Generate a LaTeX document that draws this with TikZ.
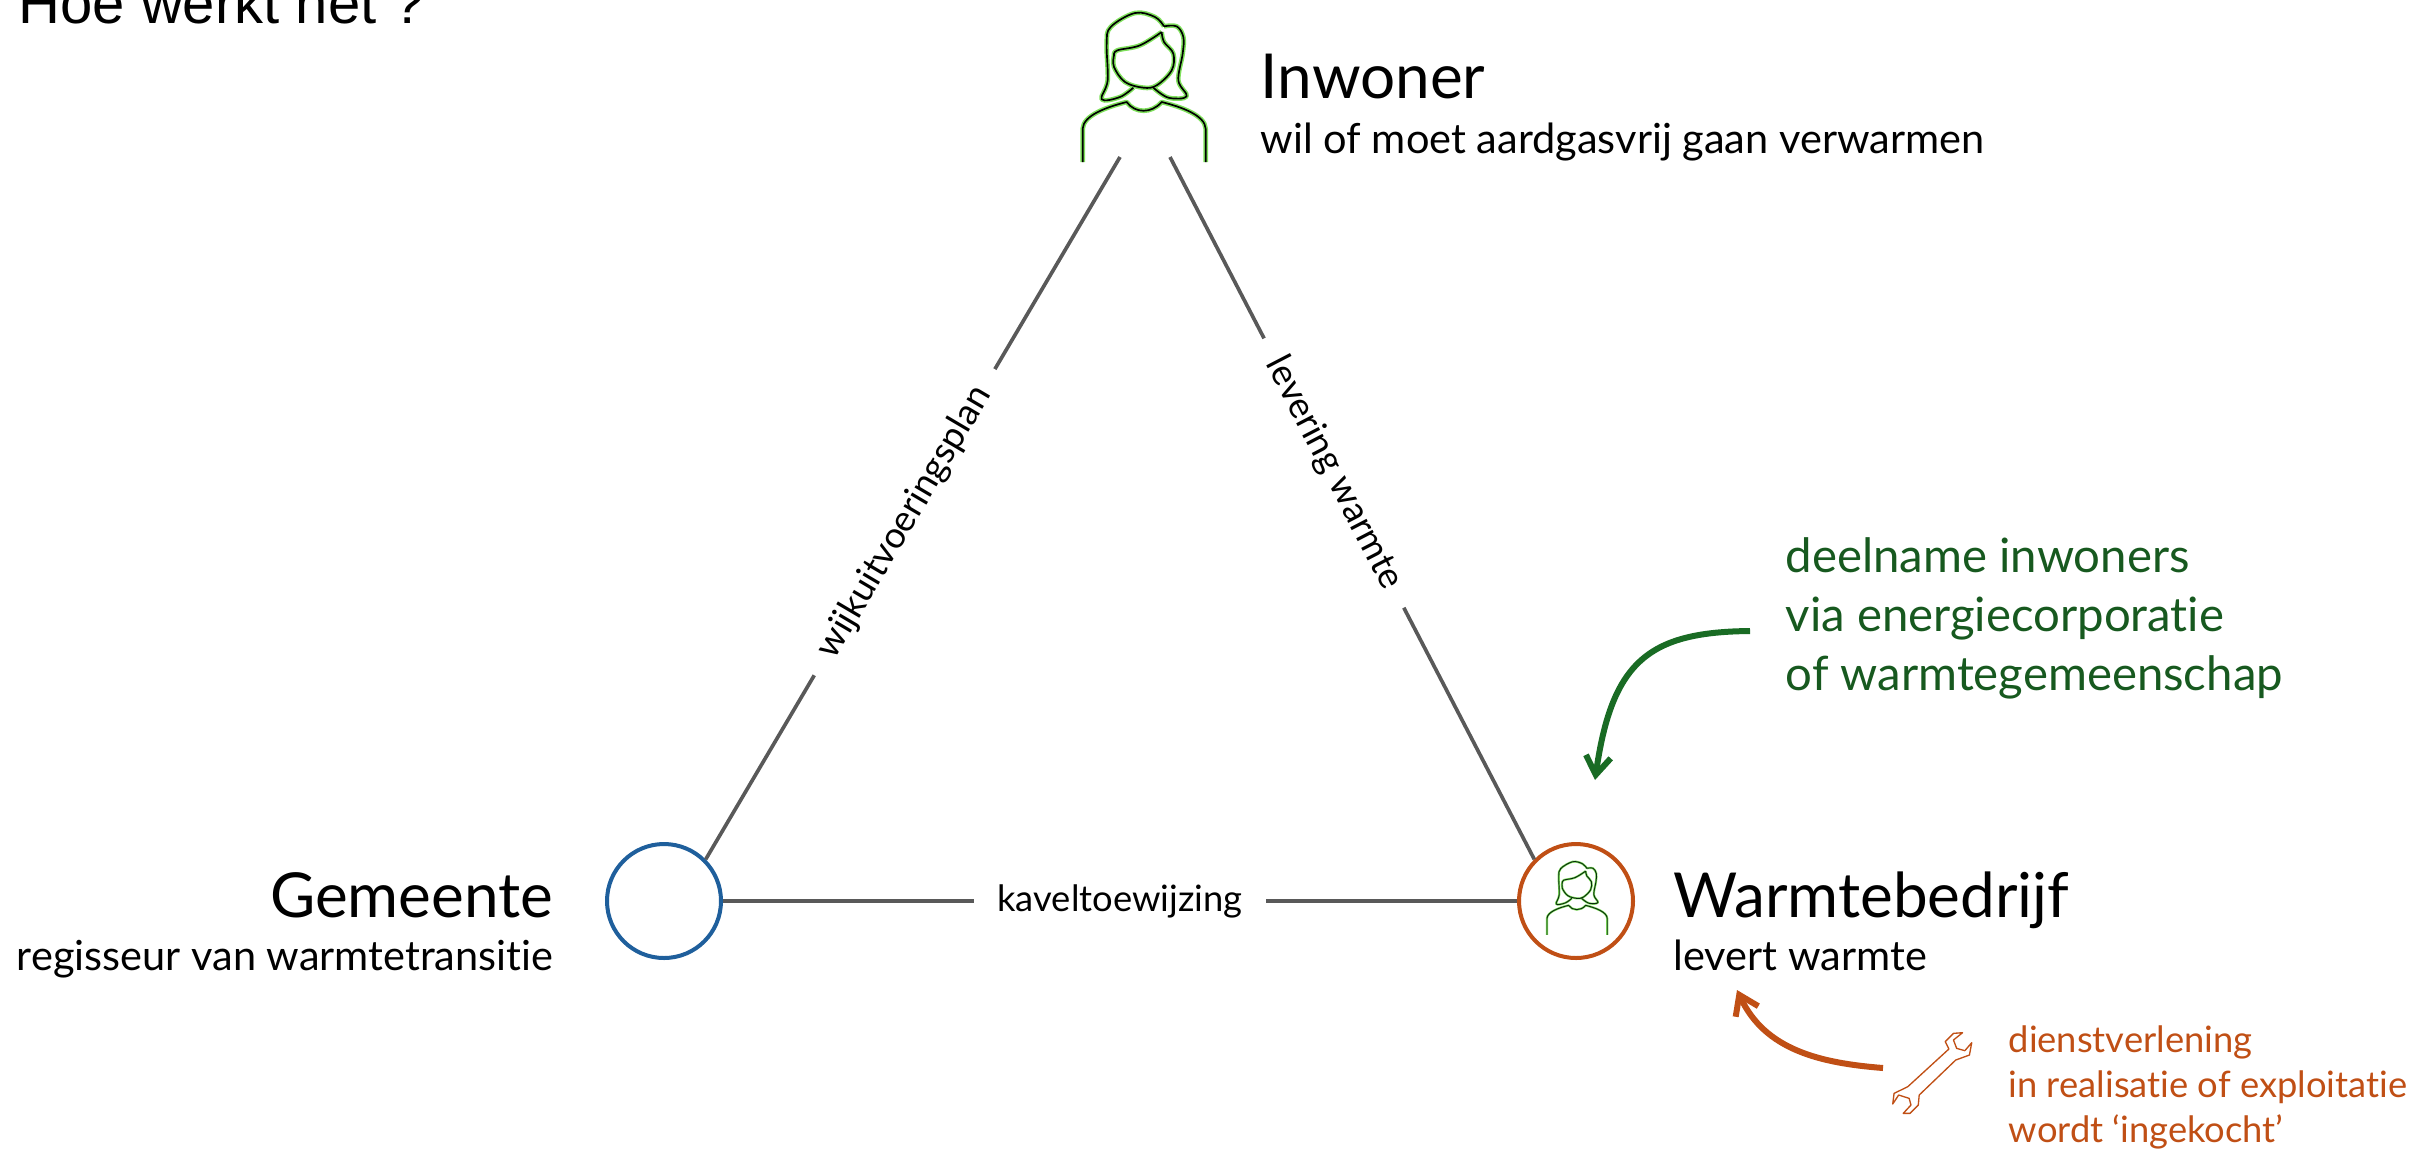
\documentclass[tikz,border=0pt]{standalone}
\usepackage{fontspec}
\setmainfont{Lato}[Ligatures=NoCommon]
\newfontfamily\titlefont{Liberation Sans}
\usetikzlibrary{positioning,arrows.meta}
\definecolor{arrowgreen}{HTML}{196B24}
\definecolor{textgreen}{HTML}{17591F}
\definecolor{glowgreen}{HTML}{7FE05C}
\definecolor{rust}{HTML}{C04F15}
\definecolor{cityblue}{HTML}{1F5F9C}
\definecolor{linkgrey}{HTML}{595959}
\tikzset{
  x=0.3pt,y=-0.3pt,
  >={Straight Barb[length=5.5pt,width=7.5pt]},
  party/.style={circle,draw,line width=1.2pt,fill=white,minimum size=34.2pt,inner sep=0pt},
  link/.style={draw=linkgrey,line width=1.1pt},
  linklabel/.style={fill=white,font=\fontsize{10.9}{13}\selectfont,inner ysep=1pt,inner xsep=7pt,sloped},
  head/.style={inner sep=0pt,anchor=base west,font=\fontsize{18.6}{22}\selectfont},
  sub/.style={inner sep=0pt,anchor=base west,font=\fontsize{12.45}{15}\selectfont},
  note/.style={inner sep=0pt,align=left,anchor=base west},
  curved/.style={->,line width=1.8pt},
  bigicon/.style={x=0.1pt,y=-0.1pt,iconglow/.style={draw=glowgreen,line width=1.4pt},iconline/.style={draw=black,line width=.5pt}},
  smallicon/.style={x=0.049pt,y=-0.049pt,iconglow/.style={draw=glowgreen,line width=.65pt},iconline/.style={draw=black!60!arrowgreen,line width=.28pt}},
  personpic/.pic={
    \begin{scope}[shift={(-312,-260)},line join=round]
    \foreach \layer in {iconglow,iconline}{
      % hair
      \draw[\layer] plot[smooth,tension=.6] coordinates {(280,262) (240,290) (185,297) (203,240) (200,130) (212,80) (285,38) (345,50) (372,78)}
        plot[smooth,tension=.6] coordinates {(372,78) (410,78) (430,110) (428,160) (415,240) (440,288) (385,292) (340,262)};
      % face
      \draw[\layer] plot[smooth,tension=.6] coordinates {(222,165) (232,150) (300,135) (365,95)}
        plot[smooth,tension=.6] coordinates {(365,95) (372,125) (400,160) (395,210) (350,255) (310,262) (255,245) (222,200) (222,165)};
      % body
      \draw[\layer] (128,485) -- (128,385) .. controls (130,345) and (200,320) .. (260,305)
        .. controls (285,340) and (335,340) .. (365,305)
        .. controls (425,320) and (495,345) .. (497,385) -- (497,485);
    }
    \end{scope}
  },
  wrenchpic/.pic={
    \draw[rust,line width=.4pt,line join=round] (555,160) -- (575,158) -- (555,180) -- (562,205) -- (580,212) -- (595,188)
      -- (590,225) -- (560,240) -- (480,345) -- (478,375) -- (460,400) -- (445,400) -- (462,375) -- (458,355)
      -- (435,345) -- (422,372) -- (425,340) -- (455,320) -- (545,207) -- (537,185) -- cycle;
  }
}

\begin{document}
\begin{tikzpicture}
\useasboundingbox (0,0) rectangle (2415,1148);

\node[inner sep=0pt,anchor=base west,font=\titlefont\fontsize{17.4}{21}\selectfont] (title) at (18,23) {Hoe werkt het ?};

\node[party,draw=cityblue] (gemeente) at (664,901) {};
\node[party,draw=rust] (warmte) at (1576,901) {};
\coordinate (inwonerleft) at (1120,157);
\coordinate (inwonerright) at (1170,157);
\coordinate (inwonericon) at (1144,87);
\coordinate (warmteicon) at (1577,898);
\pic[bigicon] (personbig) at (inwonericon) {personpic};
\pic[smallicon] (personsmall) at (warmteicon) {personpic};

\path[link] (gemeente.45) edge node[linklabel,pos=.48] {wijkuitvoeringsplan} (inwonerleft)
            (inwonerright) edge node[linklabel,pos=.45] {levering warmte} (warmte.135)
            (gemeente) edge node[linklabel,pos=.5] {kaveltoewijzing} (warmte);

\node[head] (inwonerhead) at (1260,98) {Inwoner};
\node[sub] (inwonersub) at (1260,153) {wil of moet aardgasvrij gaan verwarmen};
\node[head] (warmtehead) at (1673,917) {Warmtebedrijf};
\node[sub] (warmtesub) at (1673,970) {levert warmte};
\node[head,anchor=base east] (gemeentehead) at (554,917) {Gemeente};
\node[sub,anchor=base east] (gemeentesub) at (554,970) {regisseur van warmtetransitie};

\node[note,text=textgreen,font=\fontsize{14.2}{17.6}\selectfont] (deelname) at (1785,690) {deelname inwoners\\via energiecorporatie\\of warmtegemeenschap};
\node[note,text=rust,font=\fontsize{10.9}{13.4}\selectfont] (dienst) at (2008,1142) {dienstverlening\\in realisatie of exploitatie\\wordt ‘ingekocht’};

\coordinate (deelnamestart) at (1750,631);
\coordinate (deelnameend) at (1595,780);
\coordinate (dienststart) at (1883,1068);
\coordinate (dienstend) at (1737,990);
\draw[curved,arrowgreen] (deelnamestart) .. controls (1650,632) and (1612,660) .. (deelnameend);
\draw[curved,rust] (dienststart) .. controls (1820,1063) and (1765,1050) .. (dienstend);

\coordinate (wrenchorigin) at (1700,980);
\pic[x=0.137pt,y=-0.1pt] (wrench) at (wrenchorigin) {wrenchpic};
\end{tikzpicture}
\end{document}
